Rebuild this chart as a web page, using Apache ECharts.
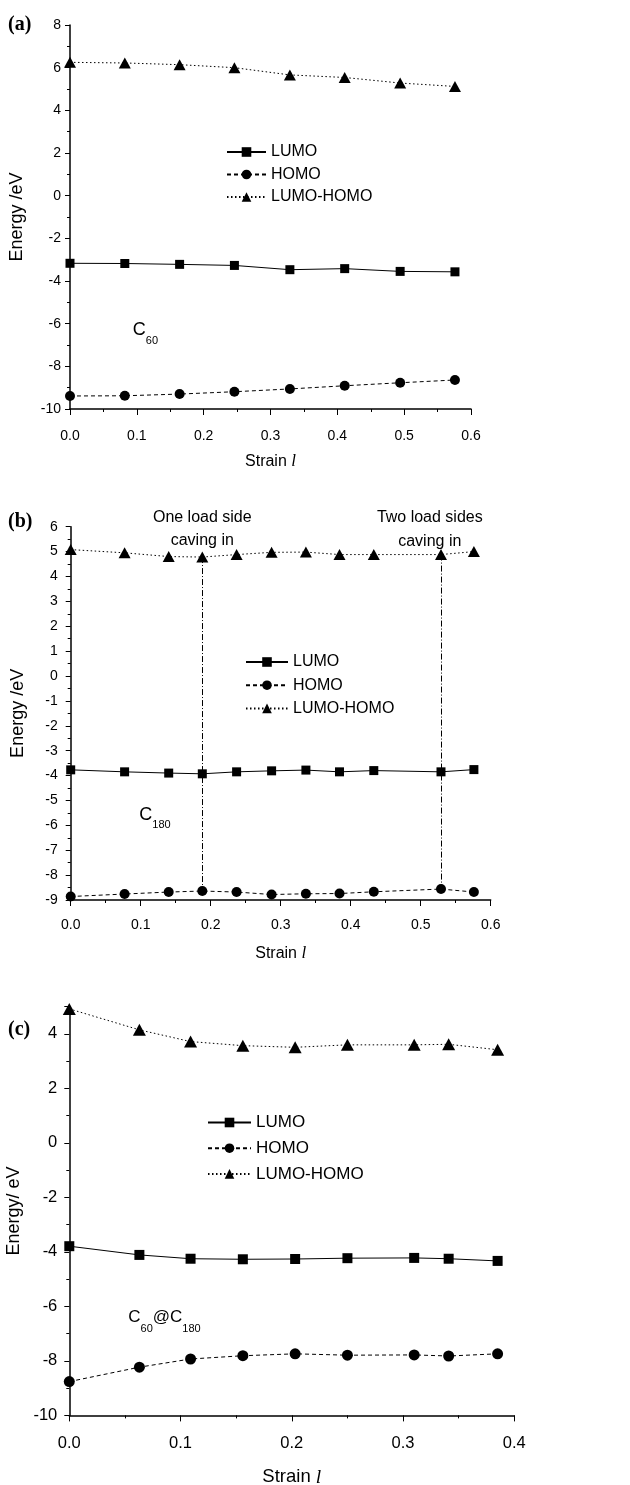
<!DOCTYPE html>
<html>
<head>
<meta charset="utf-8">
<script src="https://cdn.jsdelivr.net/npm/echarts@6/dist/echarts.min.js"></script>
<style>
  html, body { margin: 0; padding: 0; background: #fff; }
  #chart { width: 630px; height: 1485px; }
</style>
</head>
<body>
<div id="chart"></div>
<script>
// panel (a) C60
const strainA = [0, 0.082, 0.164, 0.246, 0.329, 0.411, 0.494, 0.576];
const lumoA = [-3.17, -3.18, -3.22, -3.27, -3.47, -3.42, -3.55, -3.57];
const homoA = [-9.39, -9.38, -9.3, -9.19, -9.06, -8.91, -8.77, -8.64];
const gapA = [6.25, 6.22, 6.14, 6.0, 5.66, 5.54, 5.28, 5.12];

// panel (b) C180
const strainB = [0, 0.077, 0.14, 0.188, 0.237, 0.287, 0.336, 0.384, 0.433, 0.529, 0.576];
const lumoB = [-3.77, -3.85, -3.9, -3.93, -3.85, -3.81, -3.78, -3.85, -3.8, -3.85, -3.76];
const homoB = [-8.86, -8.76, -8.68, -8.64, -8.68, -8.78, -8.75, -8.74, -8.67, -8.56, -8.68];
const gapB = [5.08, 4.95, 4.8, 4.78, 4.88, 4.97, 4.98, 4.88, 4.88, 4.88, 5.0];
// indices of the two "caving in" points
const caveIdx = [3, 9];

// panel (c) C60@C180
const strainC = [0, 0.063, 0.109, 0.156, 0.203, 0.25, 0.31, 0.341, 0.385];
const lumoC = [-3.79, -4.11, -4.25, -4.27, -4.26, -4.23, -4.22, -4.25, -4.33];
const homoC = [-8.76, -8.23, -7.93, -7.81, -7.74, -7.79, -7.78, -7.82, -7.74];
const gapC = [4.92, 4.15, 3.72, 3.57, 3.51, 3.6, 3.6, 3.62, 3.42];

const names = ["LUMO", "HOMO", "LUMO-HOMO"];

const chart = echarts.init(document.getElementById("chart"));
const font = "Liberation Sans, Arial, sans-serif";

function pairs(xs, ys) {
  return xs.map((x, i) => [x, ys[i]]);
}

function xAxisFor(idx, max, fs, labelMargin, nameGap) {
  return {
    gridIndex: idx, type: "value", min: 0, max: max, interval: 0.1,
    name: "{n|Strain }{l|l}", nameLocation: "middle", nameGap: nameGap,
    nameTextStyle: {
      rich: {
        n: { fontFamily: font, fontSize: fs + 2, color: "#000" },
        l: { fontFamily: "Liberation Serif, serif", fontStyle: "italic", fontSize: fs + 3, color: "#000" }
      }
    },
    axisLine: { onZero: false, lineStyle: { color: "#000", width: 1.5 } },
    axisTick: { length: 6, lineStyle: { color: "#000", width: 1 } },
    minorTick: { show: true, splitNumber: 2, length: 3, lineStyle: { color: "#000", width: 1 } },
    axisLabel: { color: "#000", fontFamily: font, fontSize: fs, margin: labelMargin,
      formatter: v => v.toFixed(1) },
    splitLine: { show: false }
  };
}

function yAxisFor(idx, name, min, max, interval, fs, labelMargin, nameGap, showMax) {
  return {
    gridIndex: idx, type: "value", min: min, max: max, interval: interval,
    name: name, nameLocation: "middle", nameGap: nameGap,
    nameTextStyle: { fontFamily: font, fontSize: 18, color: "#000" },
    axisLine: { show: true, onZero: false, lineStyle: { color: "#000", width: 1.5 } },
    axisTick: { length: 5, lineStyle: { color: "#000", width: 1 } },
    minorTick: { show: true, splitNumber: 2, length: 3, lineStyle: { color: "#000", width: 1 } },
    axisLabel: { color: "#000", fontFamily: font, fontSize: fs, margin: labelMargin, showMaxLabel: showMax },
    splitLine: { show: false }
  };
}

function trio(idx, xs, lumo, homo, gap, sizes) {
  return [
    { name: names[0], type: "line", xAxisIndex: idx, yAxisIndex: idx, data: pairs(xs, lumo),
      symbol: "rect", symbolSize: sizes[0], itemStyle: { color: "#000" },
      lineStyle: { color: "#000", width: 1, type: "solid" } },
    { name: names[1], type: "line", xAxisIndex: idx, yAxisIndex: idx, data: pairs(xs, homo),
      symbol: "circle", symbolSize: sizes[1], itemStyle: { color: "#000" },
      lineStyle: { color: "#000", width: 1, type: [4, 3] } },
    { name: names[2], type: "line", xAxisIndex: idx, yAxisIndex: idx, data: pairs(xs, gap),
      symbol: "triangle", symbolSize: sizes[2], itemStyle: { color: "#000" },
      lineStyle: { color: "#000", width: 1, type: [1.5, 2.5] } }
  ];
}

function note(idx, pos, text, rich, position, extra) {
  return {
    type: "scatter", xAxisIndex: idx, yAxisIndex: idx, symbolSize: 0, silent: true,
    itemStyle: { opacity: 1, color: "#000" },
    data: [pos],
    label: Object.assign({ show: true, position: position, distance: 0, formatter: text, rich: rich,
      color: "#000", fontFamily: font }, extra || {})
  };
}

// C on top of a tall line, subscript sitting at its bottom
const subRich = fs => ({
  c: { fontFamily: font, fontSize: fs, lineHeight: 25, verticalAlign: "top", color: "#000" },
  s: { fontFamily: font, fontSize: 11, lineHeight: 25, verticalAlign: "bottom", color: "#000" }
});

const series = []
  .concat(trio(0, strainA, lumoA, homoA, gapA, [9, 10, [12, 11]]))
  .concat(trio(1, strainB, lumoB, homoB, gapB, [9, 10, [12, 11]]))
  .concat(trio(2, strainC, lumoC, homoC, gapC, [10, 11, [13, 12]]));

// dash-dot verticals in (b)
series[5].markLine = {
  silent: true, symbol: "none", label: { show: false },
  lineStyle: { color: "#000", width: 1, type: [6, 2, 1, 2] },
  data: caveIdx.map(i => [{ coord: [strainB[i], gapB[i]] }, { coord: [strainB[i], homoB[i]] }])
};

series.push(note(0, [0.094, -6.46], "{c|C}{s|60}", subRich(18), "right"));
series.push(note(1, [0.098, -5.72], "{c|C}{s|180}", subRich(18), "right"));
series.push(note(2, [0.053, -6.56], "{c|C}{s|60}{c|@C}{s|180}", subRich(17), "right"));
series.push(note(1, [strainB[caveIdx[0]], 5.91], "One load side\ncaving in", null, "inside",
  { fontSize: 16, lineHeight: 23.5 }));
series.push(note(1, [0.513, 5.89], "Two load sides\ncaving in", null, "inside",
  { fontSize: 16, lineHeight: 23.5 }));

function legendFor(left, top, w, fs, gap) {
  return {
    data: names, orient: "vertical", left: left, top: top, padding: 0,
    itemWidth: w, itemHeight: 12, itemGap: gap, selectedMode: false,
    textStyle: { fontFamily: font, fontSize: fs, lineHeight: fs, color: "#000" }
  };
}

const panelTitle = (t, top) => ({
  text: t, left: 8, top: top, padding: 0,
  textStyle: { fontFamily: "Liberation Serif, serif", fontWeight: "bold", fontSize: 20, color: "#000" }
});

const option = {
  animation: false,
  backgroundColor: "#fff",
  title: [panelTitle("(a)", 15), panelTitle("(b)", 512), panelTitle("(c)", 1020)],
  legend: [
    legendFor(226, 144, 39, 16, 6.5),
    legendFor(245, 654, 42, 16, 7.2),
    legendFor(207, 1114, 43, 17, 8.7)
  ],
  grid: [
    { left: 70, top: 25, width: 401, height: 384, outerBoundsMode: "none" },
    { left: 70.7, top: 526.7, width: 420, height: 373.3, outerBoundsMode: "none" },
    { left: 69.3, top: 1006.7, width: 445, height: 408.7, outerBoundsMode: "none" }
  ],
  xAxis: [
    xAxisFor(0, 0.6, 14, 20, 44),
    xAxisFor(1, 0.6, 14, 18, 45),
    xAxisFor(2, 0.4, 16.5, 20, 52)
  ],
  yAxis: [
    yAxisFor(0, "Energy /eV", -10, 8, 2, 14, 9, 44, true),
    yAxisFor(1, "Energy /eV", -9, 6, 1, 14, 13, 44, true),
    yAxisFor(2, "Energy/ eV", -10, 5, 2, 16.5, 12, 44, false)
  ],
  series: series
};

chart.setOption(option);
</script>
</body>
</html>
